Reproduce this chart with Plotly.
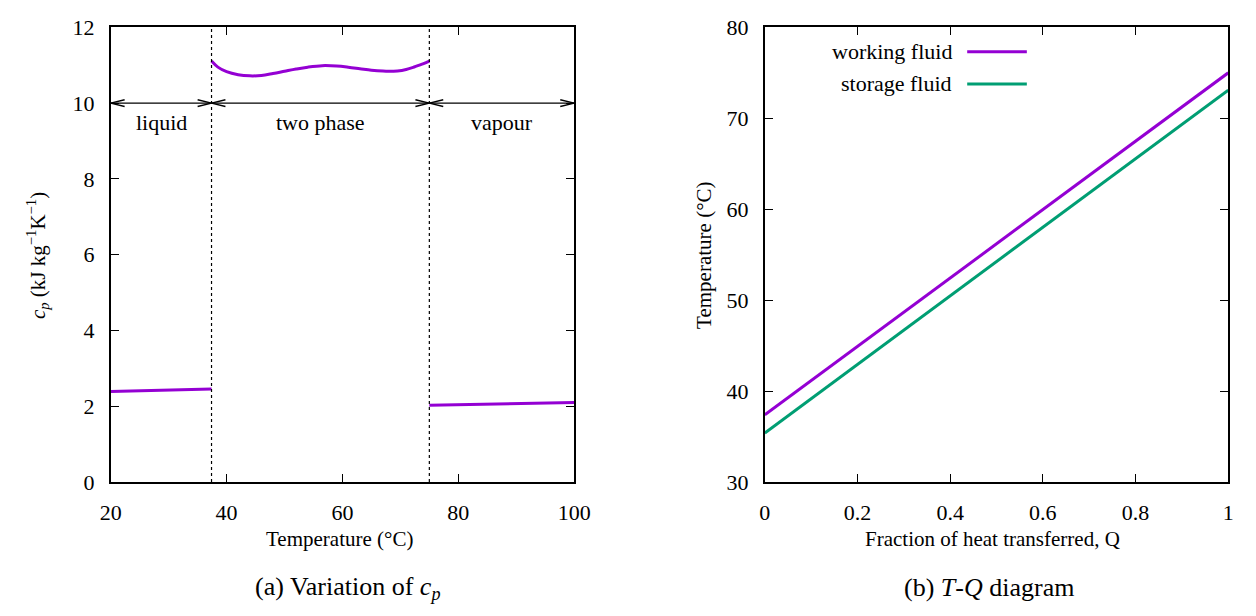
import plotly.graph_objects as go

# ---- data: left panel (cp variation) ----
liquid_T = [20, 37.4]
liquid_cp = [2.39, 2.46]
twophase_T = [37.4, 38.5, 40, 42, 44, 46, 48, 50, 52, 54, 56.5, 59, 61, 63, 65, 67, 68, 69.5, 71, 72.5, 74, 75]
twophase_cp = [11.11, 10.95, 10.83, 10.75, 10.72, 10.73, 10.78, 10.84, 10.90, 10.95, 10.99, 10.98, 10.95, 10.91, 10.87, 10.845, 10.84, 10.85, 10.89, 10.96, 11.04, 11.11]
vapour_T = [75, 100]
vapour_cp = [2.03, 2.10]
phase_bounds = [37.4, 75]
region_labels = ["liquid", "two phase", "vapour"]
region_edges = [20, 37.4, 75, 100]
arrow_level = 10
label_level = 9.5

# ---- data: right panel (T-Q diagram) ----
Q = [0, 1]
T_working = [37.4, 75.0]
T_storage = [35.4, 73.1]
series_names = ["working fluid", "storage fluid"]

PURPLE = "#9400D3"
GREEN = "#009E73"
FONT = "Liberation Serif, Times New Roman, serif"
W, H = 1256, 616

def px_x(p):
    return min(1.0, max(0.0, p / W))

def px_y(p):
    return min(1.0, max(0.0, 1 - p / H))

fig = go.Figure()
fig.add_trace(go.Scatter(x=liquid_T, y=liquid_cp, mode="lines", line=dict(color=PURPLE, width=3), xaxis="x", yaxis="y", showlegend=False))
fig.add_trace(go.Scatter(x=twophase_T, y=twophase_cp, mode="lines", line=dict(color=PURPLE, width=3, shape="spline", smoothing=1.0), xaxis="x", yaxis="y", showlegend=False))
fig.add_trace(go.Scatter(x=vapour_T, y=vapour_cp, mode="lines", line=dict(color=PURPLE, width=3), xaxis="x", yaxis="y", showlegend=False))

fig.add_trace(go.Scatter(x=Q, y=T_working, mode="lines", line=dict(color=PURPLE, width=3), xaxis="x2", yaxis="y2", showlegend=False))
fig.add_trace(go.Scatter(x=Q, y=T_storage, mode="lines", line=dict(color=GREEN, width=3), xaxis="x2", yaxis="y2", showlegend=False))

axis_common = dict(showline=True, linecolor="black", linewidth=1.6, mirror="allticks", ticks="inside",
                   ticklen=8, tickwidth=1.3, tickcolor="black", showgrid=False, zeroline=False,
                   ticklabelstandoff=10,
                   tickfont=dict(family=FONT, size=22, color="black"))

PLOT_TOP, PLOT_BOT = 16, 490
fig.update_layout(
    width=W, height=H,
    margin=dict(l=0, r=0, t=0, b=0),
    plot_bgcolor="white", paper_bgcolor="white",
    font=dict(family=FONT, color="black"),
    xaxis=dict(domain=[px_x(102), px_x(576)], range=[20, 100], tickvals=[20, 40, 60, 80, 100], anchor="y", **axis_common),
    yaxis=dict(domain=[px_y(PLOT_BOT), px_y(PLOT_TOP)], range=[0, 12], tickvals=[0, 2, 4, 6, 8, 10, 12], anchor="x", **axis_common),
    xaxis2=dict(domain=[px_x(771), px_x(1245)], range=[0, 1], tickvals=[0, 0.2, 0.4, 0.6, 0.8, 1],
                ticktext=["0", "0.2", "0.4", "0.6", "0.8", "1"], anchor="y2", **axis_common),
    yaxis2=dict(domain=[px_y(PLOT_BOT), px_y(PLOT_TOP)], range=[30, 80], tickvals=[30, 40, 50, 60, 70, 80], anchor="x2", **axis_common),
)

# dotted phase boundaries
for b in phase_bounds:
    fig.add_shape(type="line", x0=b, x1=b, y0=0, y1=12, xref="x", yref="y",
                  line=dict(color="black", width=1.2, dash="dot"))

# double-headed arrows (open V heads) at cp = 10 and region labels
head_dx = 2.4   # temperature units (~14 px)
head_dy = 0.09  # cp units (~3.5 px)
for i in range(3):
    a, b = region_edges[i], region_edges[i + 1]
    fig.add_shape(type="line", x0=a, x1=b, y0=arrow_level, y1=arrow_level, xref="x", yref="y",
                  line=dict(color="black", width=1.4))
    for tip, d in ((a, 1), (b, -1)):
        for s in (1, -1):
            fig.add_shape(type="line", x0=tip, y0=arrow_level, x1=tip + d * head_dx, y1=arrow_level + s * head_dy,
                          xref="x", yref="y", line=dict(color="black", width=1.4))
    fig.add_annotation(x=(a + b) / 2, y=label_level, xref="x", yref="y", text=region_labels[i], showarrow=False,
                       xanchor="center", yanchor="middle",
                       font=dict(family=FONT, size=22, color="black"))

# manual legend (gnuplot style: text then sample line)
leg_colors = [PURPLE, GREEN]
leg_y = [41.5, 75]
for name, c, yy in zip(series_names, leg_colors, leg_y):
    fig.add_annotation(x=px_x(964), y=px_y(yy), xref="paper", yref="paper", text=name, showarrow=False,
                       xanchor="right", yanchor="middle", font=dict(family=FONT, size=22, color="black"))
    fig.add_shape(type="line", x0=px_x(978), x1=px_x(1039), y0=px_y(yy), y1=px_y(yy), xref="paper", yref="paper",
                  line=dict(color=c, width=3))

def label(x, y, text, size, angle=0):
    fig.add_annotation(x=px_x(x), y=px_y(y), xref="paper", yref="paper", showarrow=False,
                       xanchor="center", yanchor="middle", textangle=angle,
                       text=text, font=dict(family=FONT, size=size, color="black"))

# axis titles
label(335.5, 549, "Temperature (°C)", 21)
label(1004, 549, "Fraction of heat transferred, Q", 21)
label(27, 254, "<i>c</i><sub><i>p</i></sub> (kJ kg<sup>−1</sup>K<sup>−1</sup>)", 21, -90)
label(708, 254, "Temperature (°C)", 21, -90)

# captions
label(344.5, 600, "(a) Variation of <i>c</i><sub><i>p</i></sub>", 26)
label(1000, 600, "(b) <i>T</i>-<i>Q</i> diagram", 26)

fig.write_html("out.html")
